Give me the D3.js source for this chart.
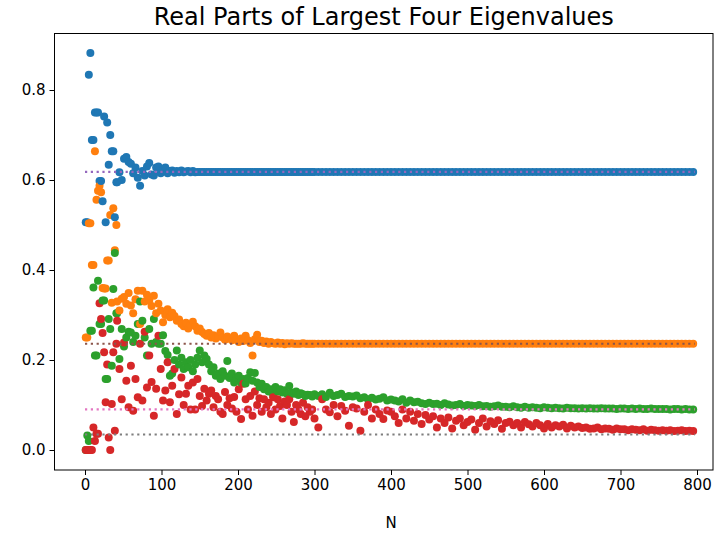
<!DOCTYPE html>
<html><head><meta charset="utf-8">
<script src="https://cdn.jsdelivr.net/npm/d3@7"></script>
<style>
html,body{margin:0;padding:0;background:#fff;}
svg{display:block;font-family:"DejaVu Sans",sans-serif;}
</style></head>
<body>
<svg id="chart" width="717" height="535"></svg>
<script>
const N = [1,3,5,7,9,11,13,15,17,19,21,23,25,27,29,31,33,35,37,39,41,
42,45,48,51,54,57,60,63,66,69,72,75,78,81,84,87,90,93,96,99,
102,105,108,111,114,117,120,123,126,129,132,135,138,141,144,147,150,153,156,159,
162,165,168,171,174,177,180,183,186,189,192,195,198,201,204,207,210,213,216,219,
222,225,228,231,234,237,240,243,246,249,252,255,258,261,264,267,270,273,276,279,
282,285,288,291,294,297,300,
305,310,315,320,325,330,335,340,345,350,355,360,365,370,375,380,385,390,395,400,
405,410,415,420,425,430,435,440,445,450,455,460,465,470,475,480,485,490,495,500,
505,510,515,520,525,530,535,540,545,550,555,560,565,570,575,580,585,590,595,600,
605,610,615,620,625,630,635,640,645,650,655,660,665,670,675,680,685,690,695,700,
705,710,715,720,725,730,735,740,745,750,755,760,765,770,775,780,785,790,795];

const eig1 = [.506,.506,.834,.882,.689,.689,.750,.750,.750,.598,.598,.553,.741,.506,.728,.634,.700,.664,.664,.517,.595,
.595,.617,.600,.647,.651,.640,.636,.615,.628,.605,.587,.620,.610,.630,.638,.612,.610,.628,.630,.615,
.622,.628,.615,.620,.621,.616,.620,.617,.621,.617,.619,.620,.617,.620,.617,.618,.618,.618,.618,.618,
.618,.618,.618,.618,.618,.618,.618,.618,.618,.618,.618,.618,.618,.618,.618,.618,.618,.618,.618,.618,
.618,.618,.618,.618,.618,.618,.618,.618,.618,.618,.618,.618,.618,.618,.618,.618,.618,.618,.618,.618,
.618,.618,.618,.618,.618,.618,.618,
.618,.618,.618,.618,.618,.618,.618,.618,.618,.618,.618,.618,.618,.618,.618,.618,.618,.618,.618,.618,
.618,.618,.618,.618,.618,.618,.618,.618,.618,.618,.618,.618,.618,.618,.618,.618,.618,.618,.618,.618,
.618,.618,.618,.618,.618,.618,.618,.618,.618,.618,.618,.618,.618,.618,.618,.618,.618,.618,.618,.618,
.618,.618,.618,.618,.618,.618,.618,.618,.618,.618,.618,.618,.618,.618,.618,.618,.618,.618,.618,.618,
.618,.618,.618,.618,.618,.618,.618,.618,.618,.618,.618,.618,.618,.618,.618,.618,.618,.618,.618];

const eig2 = [.250,.250,.504,.504,.411,.411,.664,.556,.576,.587,.573,.360,.359,.359,.421,.421,.522,.327,.537,.444,.500,
.330,.310,.336,.340,.325,.349,.321,.304,.335,.354,.280,.354,.330,.345,.332,.320,.343,.304,.325,.310,
.284,.300,.313,.295,.305,.298,.287,.290,.280,.275,.283,.270,.278,.285,.275,.265,.270,.262,.258,.254,
.260,.250,.255,.248,.252,.261,.250,.245,.252,.248,.244,.254,.245,.240,.248,.242,.254,.244,.238,.210,
.246,.256,.240,.243,.238,.241,.236,.240,.237,.236,.239,.236,.238,.235,.237,.236,.237,.236,.236,.236,
.236,.237,.236,.236,.236,.236,.236,
.236,.236,.236,.236,.236,.236,.236,.236,.236,.236,.236,.236,.236,.236,.236,.236,.236,.236,.236,.236,
.236,.236,.236,.236,.236,.236,.236,.236,.236,.236,.236,.236,.236,.236,.236,.236,.236,.236,.236,.236,
.236,.236,.236,.236,.236,.236,.236,.236,.236,.236,.236,.236,.236,.236,.236,.236,.236,.236,.236,.236,
.236,.236,.236,.236,.236,.236,.236,.236,.236,.236,.236,.236,.236,.236,.236,.236,.236,.236,.236,.236,
.236,.236,.236,.236,.236,.236,.236,.236,.236,.236,.236,.236,.236,.236,.236,.236,.236,.236,.236];

const eig3 = [.000,.032,.020,.265,.265,.361,.210,.210,.376,.280,.280,.332,.332,.158,.158,.291,.269,.187,.358,.438,.304,
.304,.202,.269,.230,.250,.263,.261,.240,.254,.280,.330,.287,.250,.210,.269,.236,.291,.240,.236,.236,
.255,.220,.211,.165,.170,.200,.221,.190,.205,.180,.195,.184,.200,.175,.190,.205,.221,.195,.210,.202,
.190,.175,.184,.165,.170,.158,.175,.165,.198,.160,.170,.150,.160,.165,.150,.158,.148,.160,.173,.154,
.171,.150,.140,.147,.135,.140,.130,.135,.121,.140,.130,.135,.128,.133,.125,.142,.128,.125,.130,.122,
.126,.124,.120,.123,.122,.119,.124,
.120,.124,.118,.127,.120,.122,.125,.118,.120,.119,.121,.115,.117,.113,.116,.112,.114,.117,.110,.112,
.110,.108,.113,.105,.110,.106,.107,.104,.102,.105,.102,.103,.100,.104,.101,.099,.100,.102,.098,.100,
.099,.098,.100,.097,.098,.096,.097,.099,.096,.096,.095,.097,.095,.094,.096,.094,.095,.094,.093,.095,
.094,.093,.094,.093,.092,.094,.093,.093,.092,.093,.092,.093,.092,.092,.093,.092,.092,.092,.091,.092,
.092,.091,.092,.091,.092,.091,.091,.092,.091,.091,.091,.091,.090,.091,.091,.090,.091,.090,.090];

const eig4 = [.000,.000,.000,.000,.000,.050,.020,.036,.036,.326,.291,.260,.217,.106,.190,.028,.000,.102,.217,.043,.236,
.287,.180,.113,.239,.154,.095,.187,.087,.158,.117,.236,.110,.263,.139,.210,.151,.076,.136,.254,.180,
.110,.132,.195,.106,.143,.180,.080,.124,.161,.100,.125,.143,.090,.150,.090,.158,.120,.098,.136,.110,
.125,.132,.095,.120,.113,.085,.080,.129,.100,.115,.092,.118,.085,.135,.069,.147,.113,.090,.120,.076,
.130,.100,.115,.085,.113,.095,.105,.080,.117,.090,.113,.098,.070,.108,.100,.113,.085,.062,.100,.090,
.080,.105,.075,.095,.085,.090,.070,
.050,.113,.090,.084,.100,.075,.098,.087,.054,.095,.092,.043,.085,.100,.070,.090,.080,.069,.088,.085,
.075,.060,.090,.070,.085,.065,.080,.058,.078,.068,.075,.050,.070,.060,.072,.048,.065,.070,.055,.062,
.068,.045,.060,.070,.052,.064,.058,.066,.047,.060,.063,.055,.060,.050,.062,.057,.052,.060,.055,.048,
.058,.050,.055,.052,.056,.048,.054,.050,.052,.049,.050,.047,.048,.050,.046,.048,.047,.045,.048,.046,
.046,.044,.046,.045,.044,.046,.043,.045,.044,.043,.044,.043,.044,.042,.043,.044,.042,.043,.042];

const seriesColors = ["#1f77b4","#ff7f0e","#2ca02c","#d62728"];
const refValues = [0.618, 0.2361, 0.0902, 0.0344];
const refColors = ["#9467bd","#8c564b","#e377c2","#7f7f7f"];
const xTicks = [0,100,200,300,400,500,600,700,800];
const yTicks = [0.0,0.2,0.4,0.6,0.8];
const title = "Real Parts of Largest Four Eigenvalues";
const xLabel = "N";

const svg = d3.select("#chart");
const x = d3.scaleLinear().domain([0,800]).range([85,697]);
const y = d3.scaleLinear().domain([0,0.8]).range([450,90]);
const xDom = [x.invert(54.5), x.invert(713)];
const yDom = [y.invert(470), y.invert(33.5)];

const series = [eig1, eig2, eig3, eig4];
const pts = [];
N.forEach((n,i) => series.forEach((s,k) => pts.push({n, v:s[i], k})));

svg.append("g").selectAll("circle").data(pts).join("circle")
  .attr("cx", d => x(d.n)).attr("cy", d => y(d.v)).attr("r", 4)
  .attr("fill", d => seriesColors[d.k]);

svg.append("g").selectAll("line").data(refValues).join("line")
  .attr("x1", x(0)).attr("x2", x(797))
  .attr("y1", d => y(d)).attr("y2", d => y(d))
  .attr("stroke", (d,i) => refColors[i]).attr("stroke-width", 2.2)
  .attr("stroke-dasharray", "2.2,3.6");

svg.append("rect")
  .attr("x", x(xDom[0])).attr("y", y(yDom[1]))
  .attr("width", x(xDom[1]) - x(xDom[0])).attr("height", y(yDom[0]) - y(yDom[1]))
  .attr("fill","none").attr("stroke","#000").attr("stroke-width",1);

const xAxis = svg.append("g").attr("transform", `translate(0,${y(yDom[0])})`)
  .call(d3.axisBottom(x).tickValues(xTicks).tickSize(5).tickPadding(4).tickFormat(d3.format("d")));
const yAxis = svg.append("g").attr("transform", `translate(${x(xDom[0])},0)`)
  .call(d3.axisLeft(y).tickValues(yTicks).tickSize(5).tickPadding(4).tickFormat(d3.format(".1f")));
[xAxis, yAxis].forEach(g => {
  g.select(".domain").remove();
  g.selectAll("line").attr("stroke","#000");
  g.selectAll("text").attr("fill","#000").style("font-size","15px").style("font-family","DejaVu Sans");
});

svg.append("text").attr("x", (x(xDom[0]) + x(xDom[1]))/2).attr("y", 25)
  .attr("text-anchor","middle").style("font-size","24px").attr("fill","#000").text(title);
svg.append("text").attr("x", x(400)).attr("y", 528)
  .attr("text-anchor","middle").style("font-size","15px").attr("fill","#000").text(xLabel);
</script>
</body></html>
